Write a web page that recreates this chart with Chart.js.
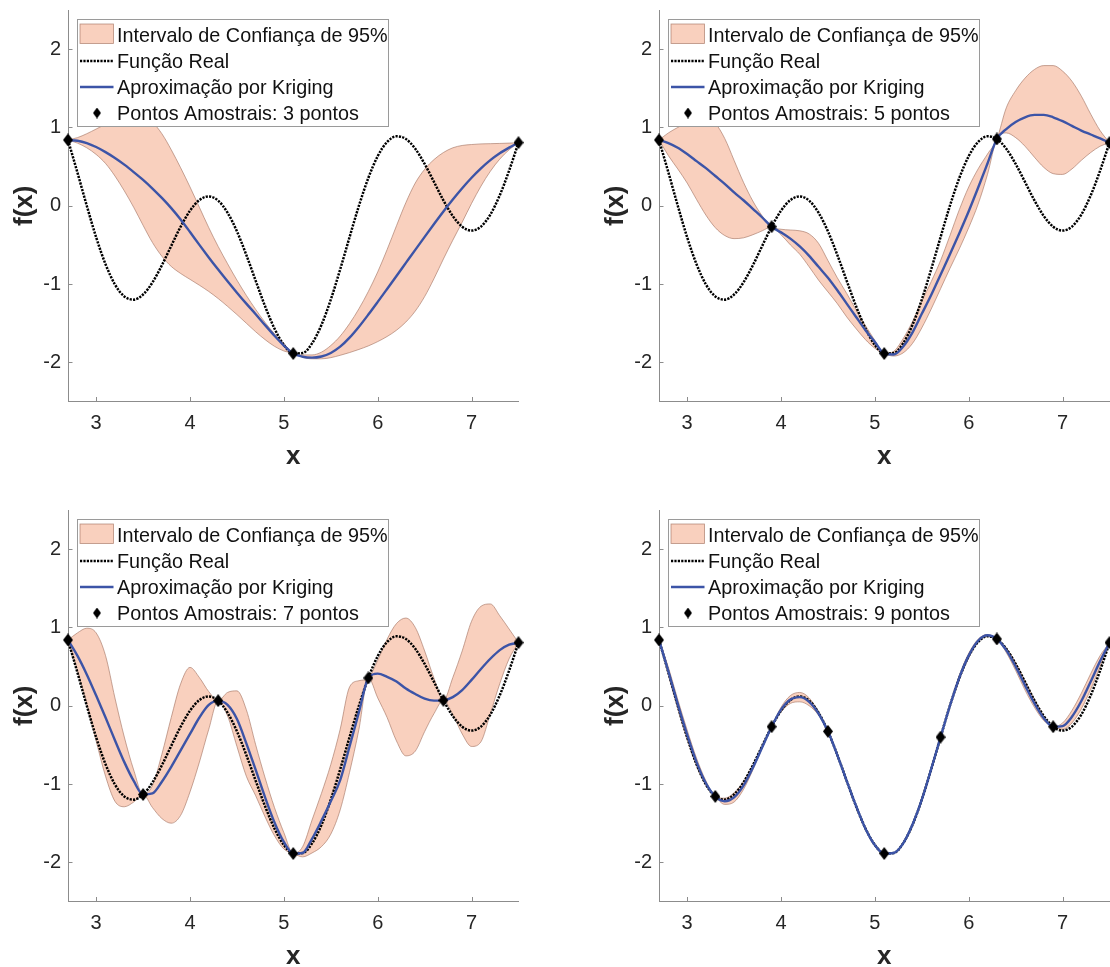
<!DOCTYPE html>
<html lang="pt-BR">
<head>
<meta charset="utf-8">
<title>Aproximação por Kriging</title>
<script src="https://cdn.jsdelivr.net/npm/chart.js@4.4.1/dist/chart.umd.min.js"></script>
<style>
  html, body { margin: 0; padding: 0; background: #fff; width: 1110px; height: 967px; overflow: hidden; }
  .painel { position: absolute; width: 555px; height: 500px; }
  .painel canvas { display: block; }
</style>
</head>
<body>
<div class="painel" style="left:0;top:0"><canvas id="g3" width="555" height="500"></canvas></div>
<div class="painel" style="left:591px;top:0"><canvas id="g5" width="555" height="500"></canvas></div>
<div class="painel" style="left:0;top:500px"><canvas id="g7" width="555" height="500"></canvas></div>
<div class="painel" style="left:591px;top:500px"><canvas id="g9" width="555" height="500"></canvas></div>
<script>
// ---- dados ----
const xGrade = [2.7, 2.8, 2.9, 3.0, 3.1, 3.2, 3.3, 3.4, 3.5, 3.6,
                3.7, 3.8, 3.9, 4.0, 4.1, 4.2, 4.3, 4.4, 4.5, 4.6,
                4.7, 4.8, 4.9, 5.0, 5.1, 5.2, 5.3, 5.4, 5.5, 5.6,
                5.7, 5.8, 5.9, 6.0, 6.1, 6.2, 6.3, 6.4, 6.5, 6.6,
                6.7, 6.8, 6.9, 7.0, 7.1, 7.2, 7.3, 7.4, 7.5];

const funcaoReal = [0.840, 0.426, -0.000, -0.403, -0.747, -1.005, -1.158, -1.199, -1.134, -0.979,
                    -0.761, -0.512, -0.268, -0.063, 0.073, 0.119, 0.065, -0.089, -0.327, -0.628,
                    -0.959, -1.284, -1.568, -1.777, -1.887, -1.882, -1.758, -1.524, -1.199, -0.813,
                    -0.401, 0.001, 0.355, 0.634, 0.814, 0.887, 0.853, 0.728, 0.534, 0.303,
                    0.069, -0.131, -0.268, -0.317, -0.266, -0.112, 0.133, 0.449, 0.806];

// 3 pontos amostrais
const amostras3X = [2.7, 5.1, 7.5];
const amostras3Y = [0.840, -1.887, 0.806];
const kriging3 = [0.840, 0.830, 0.800, 0.750, 0.685, 0.610, 0.525, 0.430, 0.330, 0.220,
                  0.100, -0.030, -0.175, -0.335, -0.500, -0.660, -0.815, -0.965, -1.110, -1.250,
                  -1.385, -1.525, -1.660, -1.785, -1.887, -1.928, -1.940, -1.925, -1.880, -1.800,
                  -1.685, -1.545, -1.390, -1.228, -1.063, -0.897, -0.730, -0.563, -0.397, -0.233,
                  -0.073, 0.080, 0.224, 0.357, 0.477, 0.582, 0.670, 0.742, 0.806];
const superior3 = [0.840, 0.870, 0.920, 0.980, 1.040, 1.090, 1.125, 1.145, 1.130, 1.065,
                   0.920, 0.715, 0.485, 0.240, -0.020, -0.280, -0.520, -0.740, -0.950, -1.145,
                   -1.325, -1.490, -1.635, -1.760, -1.887, -1.905, -1.905, -1.870, -1.785, -1.665,
                   -1.505, -1.315, -1.095, -0.845, -0.560, -0.255, 0.040, 0.290, 0.465, 0.590,
                   0.680, 0.740, 0.770, 0.782, 0.790, 0.793, 0.796, 0.800, 0.806];
const inferior3 = [0.840, 0.800, 0.740, 0.655, 0.540, 0.380, 0.190, -0.020, -0.250, -0.470,
                   -0.645, -0.775, -0.865, -0.940, -1.015, -1.095, -1.185, -1.285, -1.390, -1.500,
                   -1.610, -1.710, -1.795, -1.855, -1.887, -1.935, -1.955, -1.955, -1.940, -1.910,
                   -1.875, -1.835, -1.790, -1.735, -1.670, -1.590, -1.485, -1.345, -1.160, -0.930,
                   -0.680, -0.440, -0.210, 0.030, 0.250, 0.440, 0.595, 0.715, 0.806];

// 5 pontos amostrais
const amostras5X = [2.7, 3.9, 5.1, 6.3, 7.5];
const amostras5Y = [0.840, -0.268, -1.887, 0.853, 0.806];
const kriging5 = [0.840, 0.800, 0.740, 0.660, 0.570, 0.480, 0.380, 0.280, 0.170, 0.070,
                  -0.040, -0.150, -0.268, -0.340, -0.420, -0.520, -0.640, -0.780, -0.920, -1.080,
                  -1.250, -1.420, -1.590, -1.740, -1.887, -1.900, -1.800, -1.620, -1.380, -1.140,
                  -0.880, -0.620, -0.350, -0.070, 0.230, 0.540, 0.853, 0.980, 1.070, 1.130,
                  1.160, 1.160, 1.130, 1.080, 1.020, 0.960, 0.910, 0.860, 0.806];
const superior5 = [0.840, 0.930, 1.000, 1.060, 1.100, 1.100, 1.050, 0.860, 0.580, 0.300,
                   0.060, -0.130, -0.268, -0.300, -0.310, -0.320, -0.360, -0.480, -0.700, -0.920,
                   -1.120, -1.330, -1.530, -1.720, -1.887, -1.860, -1.700, -1.480, -1.220, -0.970,
                   -0.700, -0.380, -0.050, 0.240, 0.470, 0.660, 0.853, 1.250, 1.470, 1.630,
                   1.740, 1.790, 1.790, 1.720, 1.590, 1.400, 1.170, 0.960, 0.806];
const inferior5 = [0.840, 0.640, 0.470, 0.290, 0.080, -0.120, -0.280, -0.380, -0.420, -0.410,
                   -0.370, -0.320, -0.268, -0.370, -0.500, -0.620, -0.780, -0.950, -1.100, -1.250,
                   -1.420, -1.570, -1.710, -1.820, -1.887, -1.920, -1.880, -1.760, -1.560, -1.320,
                   -1.060, -0.800, -0.550, -0.280, 0.020, 0.400, 0.853, 0.930, 0.870, 0.760,
                   0.620, 0.490, 0.410, 0.400, 0.470, 0.580, 0.680, 0.760, 0.806];

// 7 pontos amostrais
const amostras7X = [2.7, 3.5, 4.3, 5.1, 5.9, 6.7, 7.5];
const amostras7Y = [0.840, -1.134, 0.065, -1.887, 0.355, 0.069, 0.806];
const kriging7 = [0.840, 0.640, 0.400, 0.130, -0.150, -0.440, -0.720, -0.960, -1.134, -1.120,
                  -0.970, -0.780, -0.570, -0.360, -0.150, 0.010, 0.065, 0.010, -0.170, -0.480,
                  -0.820, -1.170, -1.490, -1.740, -1.887, -1.880, -1.700, -1.470, -1.220, -0.950,
                  -0.520, -0.080, 0.355, 0.410, 0.370, 0.310, 0.220, 0.150, 0.090, 0.065,
                  0.069, 0.110, 0.200, 0.330, 0.470, 0.600, 0.710, 0.780, 0.806];
const superior7 = [0.840, 0.930, 0.990, 0.930, 0.640, 0.100, -0.400, -0.820, -1.134, -1.020,
                   -0.620, -0.150, 0.280, 0.490, 0.360, 0.180, 0.065, 0.170, 0.190, -0.050,
                   -0.500, -0.920, -1.300, -1.620, -1.887, -1.800, -1.460, -1.120, -0.750, -0.300,
                   0.240, 0.320, 0.355, 0.580, 0.850, 1.050, 1.120, 1.000, 0.700, 0.350,
                   0.069, 0.360, 0.700, 1.080, 1.270, 1.300, 1.150, 0.980, 0.806];
const inferior7 = [0.840, 0.450, 0.020, -0.450, -0.900, -1.220, -1.290, -1.230, -1.134, -1.300,
                   -1.440, -1.500, -1.400, -1.100, -0.720, -0.300, 0.065, -0.130, -0.520, -0.900,
                   -1.150, -1.420, -1.660, -1.830, -1.887, -1.930, -1.880, -1.800, -1.640, -1.330,
                   -0.850, -0.300, 0.355, 0.100, -0.150, -0.450, -0.640, -0.580, -0.330, -0.100,
                   0.069, -0.110, -0.360, -0.520, -0.460, -0.100, 0.280, 0.600, 0.806];

// 9 pontos amostrais
const amostras9X = [2.7, 3.3, 3.9, 4.5, 5.1, 5.7, 6.3, 6.9, 7.5];
const amostras9Y = [0.840, -1.158, -0.268, -0.327, -1.887, -0.401, 0.853, -0.268, 0.806];
const kriging9 = [0.840, 0.440, 0.020, -0.370, -0.720, -0.990, -1.158, -1.220, -1.170, -1.020,
                  -0.790, -0.530, -0.268, -0.050, 0.080, 0.110, 0.050, -0.100, -0.327, -0.630,
                  -0.960, -1.280, -1.570, -1.780, -1.887, -1.880, -1.760, -1.520, -1.200, -0.810,
                  -0.401, 0.000, 0.360, 0.640, 0.830, 0.900, 0.853, 0.710, 0.500, 0.260,
                  0.030, -0.160, -0.268, -0.260, -0.140, 0.060, 0.310, 0.570, 0.806];
const superior9 = [0.840, 0.490, 0.080, -0.310, -0.670, -0.960, -1.158, -1.180, -1.110, -0.970,
                   -0.760, -0.520, -0.268, -0.020, 0.130, 0.170, 0.100, -0.080, -0.327, -0.620,
                   -0.950, -1.270, -1.560, -1.780, -1.887, -1.880, -1.750, -1.510, -1.190, -0.800,
                   -0.401, 0.020, 0.390, 0.670, 0.850, 0.910, 0.853, 0.740, 0.550, 0.320,
                   0.080, -0.130, -0.268, -0.220, -0.060, 0.160, 0.410, 0.640, 0.806];
const inferior9 = [0.840, 0.390, -0.040, -0.430, -0.770, -1.020, -1.158, -1.260, -1.230, -1.070,
                   -0.820, -0.540, -0.268, -0.080, 0.030, 0.050, 0.000, -0.120, -0.327, -0.640,
                   -0.970, -1.290, -1.580, -1.780, -1.887, -1.880, -1.770, -1.530, -1.210, -0.820,
                   -0.401, -0.020, 0.330, 0.610, 0.810, 0.890, 0.853, 0.680, 0.450, 0.200,
                   -0.020, -0.190, -0.268, -0.300, -0.220, -0.040, 0.210, 0.500, 0.806];

const ticksX = [3, 4, 5, 6, 7];
const ticksY = [-2, -1, 0, 1, 2];
const legendaTextos = ['Intervalo de Confiança de 95%', 'Função Real', 'Aproximação por Kriging', 'Pontos Amostrais'];

// ---- estilo ----
const FONTE = '"Liberation Sans", Arial, Helvetica, sans-serif';
const COR_EIXO = '#8c8c8c';
const COR_TEXTO = '#262626';
const COR_FAIXA = 'rgb(249,208,190)';
const COR_BORDA_FAIXA = 'rgba(165,118,100,0.8)';
const COR_KRIGING = '#3c54a7';

function diamante(w, h) {
  const c = document.createElement('canvas');
  c.width = w; c.height = h;
  const g = c.getContext('2d');
  g.fillStyle = '#000';
  g.beginPath();
  g.moveTo(w / 2, 0); g.lineTo(w, h / 2); g.lineTo(w / 2, h); g.lineTo(0, h / 2);
  g.closePath(); g.fill();
  return c;
}
const marcador = diamante(10, 13);
const marcadorLegenda = diamante(8, 11);

const pares = (xs, ys) => xs.map((x, i) => ({ x, y: ys[i] }));

// marcas dos eixos voltadas para dentro + legenda dentro da área do gráfico
const extras = {
  id: 'extras',
  afterDatasetsDraw(chart, args, opts) {
    const { ctx, chartArea: a, scales: { x, y } } = chart;
    ctx.save();
    ctx.strokeStyle = COR_EIXO;
    ctx.lineWidth = 1;
    ctx.beginPath();
    x.ticks.forEach(t => {
      const px = Math.round(x.getPixelForValue(t.value)) + 0.5;
      ctx.moveTo(px, a.bottom); ctx.lineTo(px, a.bottom - 4.5);
    });
    y.ticks.forEach(t => {
      const py = Math.round(y.getPixelForValue(t.value)) + 0.5;
      ctx.moveTo(a.left, py); ctx.lineTo(a.left + 4.5, py);
    });
    ctx.stroke();

    // legenda
    const x0 = Math.round(a.left + 9) + 0.5, y0 = Math.round(a.top + 9) + 0.5;
    const w = 311, h = 107;
    ctx.fillStyle = '#fff';
    ctx.fillRect(x0, y0, w, h);
    ctx.strokeStyle = '#9a9a9a';
    ctx.lineWidth = 1;
    ctx.strokeRect(x0, y0, w, h);

    const ix0 = x0 + 2.5, ix1 = x0 + 36;
    // amostra da faixa
    ctx.fillStyle = COR_FAIXA;
    ctx.fillRect(ix0, y0 + 4.5, ix1 - ix0, 19.5);
    ctx.strokeStyle = COR_BORDA_FAIXA;
    ctx.lineWidth = 0.8;
    ctx.strokeRect(ix0, y0 + 4.5, ix1 - ix0, 19.5);
    // linha pontilhada
    ctx.strokeStyle = '#000';
    ctx.lineWidth = 2.4;
    ctx.setLineDash([2.2, 1.2]);
    ctx.beginPath(); ctx.moveTo(ix0, y0 + 41.5); ctx.lineTo(ix1, y0 + 41.5); ctx.stroke();
    ctx.setLineDash([]);
    // linha do kriging
    ctx.strokeStyle = COR_KRIGING;
    ctx.lineWidth = 2.4;
    ctx.beginPath(); ctx.moveTo(ix0, y0 + 67.5); ctx.lineTo(ix1, y0 + 67.5); ctx.stroke();
    // marcador
    ctx.drawImage(marcadorLegenda, x0 + 19.5 - marcadorLegenda.width / 2, y0 + 93.5 - marcadorLegenda.height / 2);

    ctx.fillStyle = '#111';
    ctx.font = '19.8px ' + FONTE;
    ctx.textBaseline = 'alphabetic';
    ctx.textAlign = 'left';
    const tx = x0 + 39.5;
    ctx.fillText(legendaTextos[0], tx, y0 + 22.5);
    ctx.fillText(legendaTextos[1], tx, y0 + 48.5);
    ctx.fillText(legendaTextos[2], tx, y0 + 74.5);
    ctx.fillText(legendaTextos[3] + ': ' + opts.pontos + ' pontos', tx, y0 + 100.5);
    ctx.restore();
  }
};

function criarGrafico(id, ax, ay, kri, sup, inf) {
  const linha = { pointRadius: 0, pointHoverRadius: 0, cubicInterpolationMode: 'monotone', fill: false };
  new Chart(document.getElementById(id), {
    type: 'line',
    data: {
      datasets: [
        { label: 'Pontos Amostrais', data: pares(ax, ay), showLine: false,
          pointStyle: marcador, pointRadius: 6, borderColor: '#000', backgroundColor: '#000',
          clip: false, order: 0 },
        Object.assign({ label: 'Aproximação por Kriging', data: pares(xGrade, kri),
          borderColor: COR_KRIGING, borderWidth: 2.4, order: 1 }, linha),
        Object.assign({ label: 'Função Real', data: pares(xGrade, funcaoReal),
          borderColor: '#000', borderWidth: 2.5, borderDash: [2.2, 1.2], order: 2 }, linha),
        Object.assign({}, linha, { label: 'Intervalo de Confiança de 95%', data: pares(xGrade, sup),
          borderColor: COR_BORDA_FAIXA, borderWidth: 0.8, backgroundColor: COR_FAIXA,
          fill: '+1', order: 3 }),
        Object.assign({ label: 'limite inferior', data: pares(xGrade, inf),
          borderColor: COR_BORDA_FAIXA, borderWidth: 0.8, order: 4 }, linha)
      ]
    },
    options: {
      responsive: false,
      animation: false,
      events: [],
      layout: { padding: { left: 0, top: 10, right: 36.5, bottom: 0 } },
      plugins: {
        legend: { display: false },
        tooltip: { enabled: false },
        filler: { drawTime: 'beforeDatasetsDraw' },
        extras: { pontos: ax.length }
      },
      scales: {
        x: {
          type: 'linear', min: 2.7, max: 7.5,
          afterBuildTicks: s => { s.ticks = ticksX.map(v => ({ value: v })); },
          afterFit: s => { s.height = 98.5; s.paddingLeft = s.paddingRight = s.paddingTop = s.paddingBottom = 0; },
          grid: { display: false, drawTicks: false },
          border: { display: true, color: COR_EIXO, width: 1 },
          ticks: { color: COR_TEXTO, font: { family: FONTE, size: 20 }, padding: 9.5, maxRotation: 0 },
          title: { display: true, text: 'x', color: COR_TEXTO,
                   font: { family: FONTE, size: 26, weight: 'bold' }, padding: { top: 0, bottom: 27.4 } }
        },
        y: {
          type: 'linear', min: -2.5, max: 2.5,
          afterBuildTicks: s => { s.ticks = ticksY.map(v => ({ value: v })); },
          afterFit: s => { s.width = 68; s.paddingLeft = s.paddingRight = s.paddingTop = s.paddingBottom = 0; },
          grid: { display: false, drawTicks: false },
          border: { display: true, color: COR_EIXO, width: 1 },
          ticks: { color: COR_TEXTO, font: { family: FONTE, size: 20 }, padding: 7 },
          title: { display: true, text: 'f(x)', color: COR_TEXTO,
                   font: { family: FONTE, size: 26, weight: 'bold' }, padding: { top: 8.8, bottom: 0 } }
        }
      }
    },
    plugins: [extras]
  });
}

criarGrafico('g3', amostras3X, amostras3Y, kriging3, superior3, inferior3);
criarGrafico('g5', amostras5X, amostras5Y, kriging5, superior5, inferior5);
criarGrafico('g7', amostras7X, amostras7Y, kriging7, superior7, inferior7);
criarGrafico('g9', amostras9X, amostras9Y, kriging9, superior9, inferior9);
</script>
</body>
</html>
